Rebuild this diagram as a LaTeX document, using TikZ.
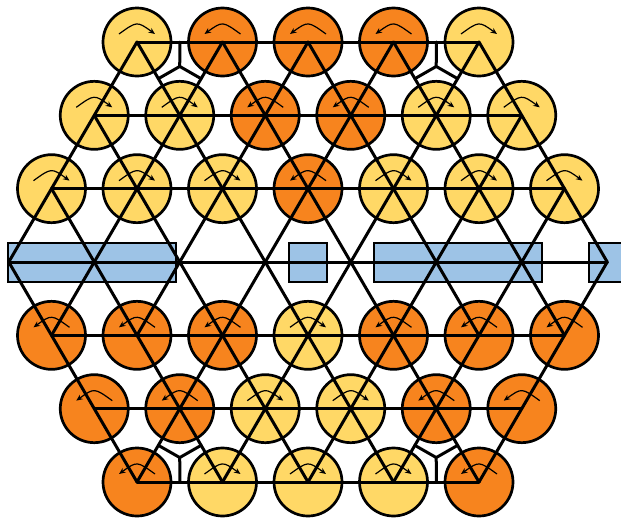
\documentclass[tikz,border=0pt]{standalone}
\usetikzlibrary{calc,arrows.meta}
\definecolor{cyel}{HTML}{FFD866}
\definecolor{corg}{HTML}{F7841E}
\definecolor{cblu}{HTML}{9DC3E6}
\tikzset{
  disc/.style={circle,draw=black,line width=2.7pt,minimum size=68pt,inner sep=0pt},
  discy/.style={disc,fill=cyel},
  disco/.style={disc,fill=corg},
  bond/.style={line width=3pt,line cap=round,line join=round},
  spin/.style={line width=1.2pt,-{Stealth[length=6.5pt,width=5.5pt]}},
  bar/.style={draw=black,line width=2.7pt,fill=cblu},
}
\newcommand\arry[1]{\draw[spin] ($(#1)+(-18,-8)$) .. controls ($(#1)+(0,-21)$) .. ($(#1)+(18,-8)$);}
\newcommand\arro[1]{\draw[spin] ($(#1)+(18,-8)$) .. controls ($(#1)+(0,-21)$) .. ($(#1)+(-18,-8)$);}
\begin{document}
\begin{tikzpicture}[x=1pt,y=-1pt]
\useasboundingbox (0,0) rectangle (621,520);
% lattice points
\foreach \r/\M in {1/4,2/5,3/6,4/7,5/6,6/5,7/4}{
  \pgfmathtruncatemacro\ma{-\M}
  \pgfmathtruncatemacro\mb{-\M+2}
  \foreach \m in {\ma,\mb,...,\M}{
    \coordinate (p\m_\r) at ({308+42.75*\m},{42+73.333*(\r-1)});
  }
}
% blue bars
\node[bar,inner sep=0pt,minimum width=168pt,minimum height=39pt] (b1) at (92,262.5) {};
\node[bar,inner sep=0pt,minimum width=38pt,minimum height=39pt] (b2) at (308,262.5) {};
\node[bar,inner sep=0pt,minimum width=168pt,minimum height=39pt] (b3) at (458,262.5) {};
\node[bar,inner sep=0pt,minimum width=60pt,minimum height=39pt] (b4) at (619,262.5) {};
% discs with rotation arrows
\foreach \r/\lst in {1/{-4/y,-2/o,0/o,2/o,4/y},
                     2/{-5/y,-3/y,-1/o,1/o,3/y,5/y},
                     3/{-6/y,-4/y,-2/y,0/o,2/y,4/y,6/y},
                     5/{-6/o,-4/o,-2/o,0/y,2/o,4/o,6/o},
                     6/{-5/o,-3/o,-1/y,1/y,3/o,5/o},
                     7/{-4/o,-2/y,0/y,2/y,4/o}}{
  \foreach \m/\k in \lst {
    \node[disc\k] (c\m_\r) at (p\m_\r) {};
    \csname arr\k\endcsname{c\m_\r.center}
  }
}
% horizontal bonds
\draw[bond] (p-4_1) -- (p4_1);
\draw[bond] (p-5_2) -- (p5_2);
\draw[bond] (p-6_3) -- (p6_3);
\draw[bond] (p-7_4) -- (p7_4);
\draw[bond] (p-6_5) -- (p6_5);
\draw[bond] (p-5_6) -- (p5_6);
\draw[bond] (p-4_7) -- (p4_7);
% down-right bonds
\draw[bond] (p4_1) -- (p7_4);
\draw[bond] (p2_1) -- (p6_5);
\draw[bond] (p0_1) -- (p4_5);
\draw[bond] (p-2_1) -- (p4_7);
\draw[bond] (p-4_1) -- (p2_7);
\draw[bond] (p-5_2) -- (p0_7);
\draw[bond] (p-6_3) -- (p-2_7);
\draw[bond] (p-7_4) -- (p-4_7);
% down-left bonds
\draw[bond] (p-4_1) -- (p-7_4);
\draw[bond] (p-2_1) -- (p-6_5);
\draw[bond] (p0_1) -- (p-4_5);
\draw[bond] (p2_1) -- (p-4_7);
\draw[bond] (p4_1) -- (p-2_7);
\draw[bond] (p5_2) -- (p0_7);
\draw[bond] (p6_3) -- (p2_7);
\draw[bond] (p7_4) -- (p4_7);
% Y junctions
\foreach \n/\a/\b/\c in {ya/-4_1/-2_1/-3_2, yb/2_1/4_1/3_2, yc/-4_7/-2_7/-3_6, yd/2_7/4_7/3_6}{
  \coordinate (\n) at (barycentric cs:p\a=1,p\b=1,p\c=1);
  \coordinate (\n1) at ($(p\a)!.5!(p\b)$);
  \coordinate (\n2) at ($(p\a)!.5!(p\c)$);
  \coordinate (\n3) at ($(p\b)!.5!(p\c)$);
  \draw[bond] (\n1) -- (\n) (\n2) -- (\n) (\n3) -- (\n);
}
\end{tikzpicture}
\end{document}
